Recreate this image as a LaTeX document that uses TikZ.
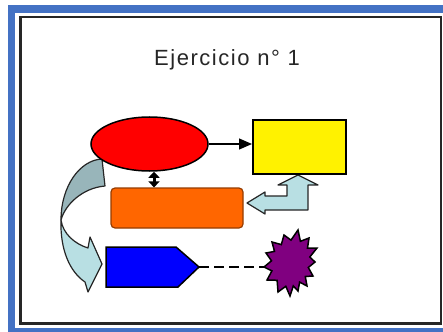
\documentclass[tikz,border=0pt]{standalone}
\usepackage{fontspec}
\setmainfont{Liberation Sans}
\newfontfamily\titlefont[LetterSpace=7]{Liberation Sans}
\usetikzlibrary{arrows.meta,shapes.geometric}
\definecolor{frameblue}{RGB}{68,114,196}
\definecolor{orangefill}{RGB}{255,102,0}
\definecolor{orangeline}{RGB}{150,60,0}
\definecolor{burstpurple}{RGB}{128,0,128}
\definecolor{lightarrow}{RGB}{184,223,227}
\definecolor{darkarrow}{RGB}{152,181,186}
\tikzset{
  outl/.style={draw=black, line width=1.5pt},
  blockarrow/.style={draw=black!85, line width=1.2pt, line join=round},
  conn/.style={draw=black, line width=1.2pt},
}
\begin{document}
\begin{tikzpicture}[x=1pt,y=-1pt]
\useasboundingbox (0,0) rectangle (443,331);
\fill[white] (0,0) rectangle (443,331);
% frames
\fill[frameblue] (8,5) rectangle (460,345);
\fill[white] (15,13) rectangle (460,327.5);
\draw[line width=2.5pt, black!85] (20.5,17) rectangle (441,323.7);
% title
\node[anchor=base west, inner sep=0, text=black!85, font=\titlefont\fontsize{22}{22}\selectfont] (title) at (154,66) {Ejercicio n° 1};
% curved arrow (left)
\path[blockarrow, fill=darkarrow] (102,159) .. controls (80,160) and (61,186) .. (61,220)
   .. controls (65,205) and (82,188) .. (105,186) -- cycle;
\path[blockarrow, fill=lightarrow] (61,220) .. controls (60,250) and (70,272) .. (85,282)
   -- (88,292) -- (102,264) -- (90,237) -- (88,248)
   .. controls (75,244) and (63,234) .. (61,220) -- cycle;
% bent arrow (right)
\path[blockarrow, fill=lightarrow] (247,203) -- (265,192) -- (265,196) -- (287,196) -- (287,185)
   -- (278,185) -- (298,175) -- (318,185) -- (308,185) -- (308,210) -- (265,210) -- (265,214) -- cycle;
% nodes
\node[ellipse, outl, fill=red, minimum width=117pt, minimum height=54pt, inner sep=0] (ell) at (149.5,144) {};
\node[rectangle, draw=black, line width=2pt, fill=yellow, minimum width=93pt, minimum height=54pt, inner sep=0] (yel) at (299.5,147) {};
\node[rectangle, draw=orangeline, line width=1.2pt, fill=orangefill, rounded corners=4pt, minimum width=132pt, minimum height=40pt, inner sep=0] (org) at (177,208) {};
% pentagon
\path[outl, fill=blue] (106,247) -- (176,247) -- (199,267) -- (178,287) -- (106,287) -- cycle;
\coordinate (ptip) at (199,267);
% starburst
\path[outl, fill=burstpurple, line join=miter] (298,230) -- (300.4,241.3) -- (309,238) -- (307.5,248) -- (317,248) -- (309.8,257)
  -- (315,262) -- (308.3,267.5) -- (313,276) -- (305.3,276.5) -- (307,286) -- (299.6,282.1)
  -- (298,291) -- (293.3,285.9) -- (290,296) -- (285.8,286.3) -- (278,292) -- (277.1,280.3)
  -- (267,280) -- (271.9,270.9) -- (264,267) -- (271.5,260.8) -- (266,253) -- (274.5,251.4)
  -- (272,242) -- (281.3,244.6) -- (284,235) -- (291,240.1) -- cycle;
\coordinate (burst) at (265,267);
% connectors
\coordinate (mid) at (154,0);
\draw[conn, -{Triangle[length=13pt,width=11pt]}] (ell.east) -- (yel.west |- ell.east);
\draw[conn, line width=3pt, {Triangle[length=6pt,width=11pt]}-{Triangle[length=6pt,width=11pt]}] (ell.south -| mid) -- (org.north -| mid);
\draw[conn, line width=1.3pt, dash pattern=on 10pt off 5pt] (ptip) -- (burst);
\end{tikzpicture}
\end{document}
